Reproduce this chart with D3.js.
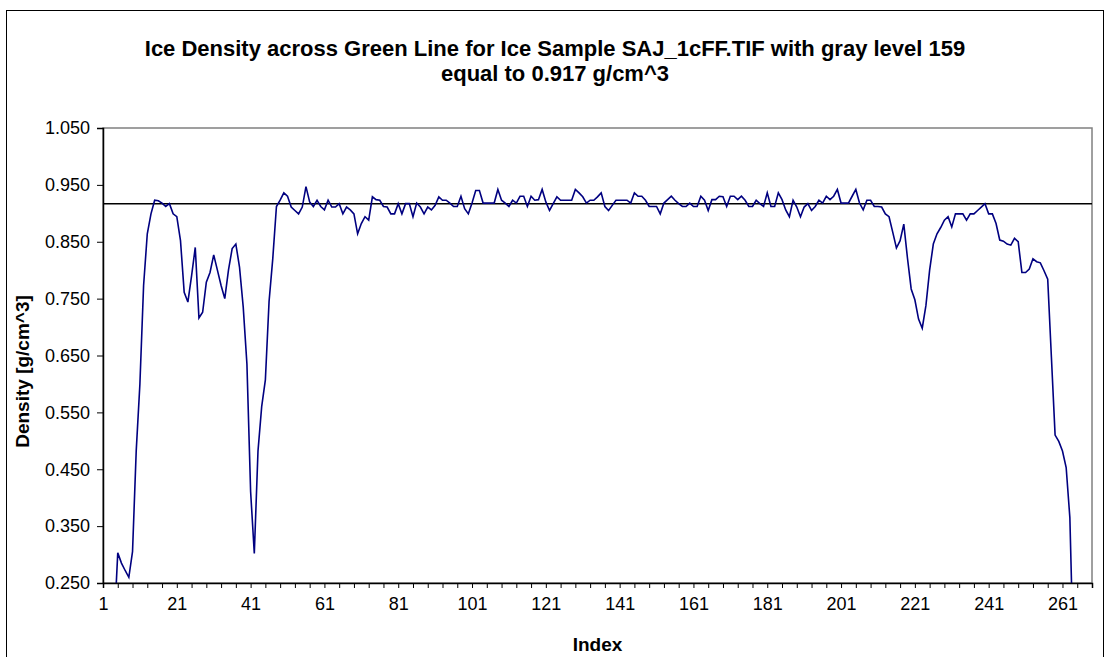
<!DOCTYPE html>
<html>
<head>
<meta charset="utf-8">
<script src="https://cdn.jsdelivr.net/npm/d3@7"></script>
<style>
  body { margin: 0; background: #fff; }
  svg text { font-family: "Liberation Sans", Arial, sans-serif; }
</style>
</head>
<body>
<div id="chart"></div>
<script>
// density, one value per index (1..269)
var density = [
  0, 0, 0, 0.17, 0.303, 0.285, 0.272, 0.26, 0.305, 0.482,
  0.6, 0.773, 0.864, 0.899, 0.923, 0.922, 0.918, 0.912, 0.917, 0.899,
  0.894, 0.852, 0.761, 0.744, 0.79, 0.84, 0.716, 0.726, 0.779, 0.796,
  0.827, 0.80, 0.773, 0.75, 0.80, 0.838, 0.846, 0.805, 0.735, 0.635,
  0.411, 0.302, 0.482, 0.56, 0.607, 0.745, 0.82, 0.912, 0.923, 0.936,
  0.930, 0.911, 0.905, 0.899, 0.911, 0.947, 0.920, 0.912, 0.923, 0.912,
  0.906, 0.923, 0.911, 0.911, 0.917, 0.899, 0.911, 0.906, 0.899, 0.864,
  0.882, 0.894, 0.888, 0.929, 0.924, 0.923, 0.912, 0.911, 0.899, 0.899,
  0.917, 0.899, 0.917, 0.917, 0.894, 0.918, 0.911, 0.899, 0.911, 0.906,
  0.914, 0.929, 0.923, 0.923, 0.918, 0.912, 0.912, 0.930, 0.908, 0.899,
  0.918, 0.940, 0.940, 0.918, 0.918, 0.918, 0.918, 0.942, 0.923, 0.918,
  0.912, 0.923, 0.918, 0.930, 0.930, 0.912, 0.930, 0.923, 0.924, 0.942,
  0.920, 0.905, 0.917, 0.929, 0.923, 0.923, 0.923, 0.923, 0.942, 0.936,
  0.929, 0.918, 0.923, 0.923, 0.929, 0.936, 0.912, 0.905, 0.914, 0.923,
  0.923, 0.923, 0.923, 0.918, 0.936, 0.930, 0.930, 0.923, 0.912, 0.912,
  0.912, 0.899, 0.918, 0.924, 0.930, 0.923, 0.917, 0.912, 0.912, 0.918,
  0.912, 0.912, 0.930, 0.923, 0.905, 0.924, 0.924, 0.930, 0.929, 0.912,
  0.930, 0.930, 0.924, 0.930, 0.923, 0.912, 0.912, 0.923, 0.917, 0.912,
  0.936, 0.912, 0.912, 0.936, 0.924, 0.906, 0.894, 0.923, 0.911, 0.894,
  0.911, 0.917, 0.905, 0.912, 0.923, 0.918, 0.930, 0.924, 0.930, 0.942,
  0.918, 0.918, 0.918, 0.930, 0.942, 0.918, 0.906, 0.923, 0.923, 0.912,
  0.912, 0.911, 0.899, 0.894, 0.867, 0.839, 0.852, 0.881, 0.821, 0.767,
  0.748, 0.714, 0.698, 0.738, 0.80, 0.846, 0.864, 0.875, 0.888, 0.894,
  0.876, 0.899, 0.899, 0.899, 0.888, 0.899, 0.899, 0.905, 0.911, 0.917,
  0.899, 0.899, 0.882, 0.853, 0.851, 0.846, 0.844, 0.856, 0.850, 0.796,
  0.796, 0.802, 0.820, 0.815, 0.813, 0.799, 0.784, 0.647, 0.510, 0.499,
  0.482, 0.453, 0.365, 0.11, 0, 0, 0, 0, 0
];
var iceDensity = 0.917; // gray level 159
var yTicks = [0.25, 0.35, 0.45, 0.55, 0.65, 0.75, 0.85, 0.95, 1.05];
var xLabels = [1, 21, 41, 61, 81, 101, 121, 141, 161, 181, 201, 221, 241, 261];
var titleLines = ["Ice Density across Green Line for Ice Sample SAJ_1cFF.TIF with gray level 159",
                  "equal to 0.917 g/cm^3"];

var width = 1108, height = 657;
var plot = {left: 103, right: 1092, top: 128, bottom: 583};

var svg = d3.select("#chart").append("svg")
            .attr("width", width)
            .attr("height", height);

// chart border
svg.append("rect")
   .attr("x", 6.5).attr("y", 10.5)
   .attr("width", 1097).attr("height", 660)
   .attr("fill", "none").attr("stroke", "#000").attr("stroke-width", 1);

var x = d3.scaleLinear().domain([1, density.length]).range([plot.left, plot.right]);
var y = d3.scaleLinear().domain([0.25, 1.05]).range([plot.bottom, plot.top]);

// plot area border (grey)
svg.append("rect")
   .attr("x", plot.left).attr("y", plot.top)
   .attr("width", plot.right - plot.left).attr("height", plot.bottom - plot.top)
   .attr("fill", "none").attr("stroke", "#808080").attr("stroke-width", 1.5);

svg.append("clipPath").attr("id", "clip")
   .append("rect")
   .attr("x", plot.left).attr("y", plot.top)
   .attr("width", plot.right - plot.left).attr("height", plot.bottom - plot.top);

// reference line at ice density
svg.append("line")
   .attr("x1", plot.left).attr("x2", plot.right)
   .attr("y1", y(iceDensity)).attr("y2", y(iceDensity))
   .attr("stroke", "#000").attr("stroke-width", 1.5);

var line = d3.line()
             .x(function(d, i) { return x(i + 1); })
             .y(function(d) { return y(d); });

svg.append("path")
   .datum(density)
   .attr("clip-path", "url(#clip)")
   .attr("d", line)
   .attr("fill", "none")
   .attr("stroke", "#000080")
   .attr("stroke-width", 1.6);

// axes
var yAxis = d3.axisLeft(y).tickValues(yTicks).tickSize(6).tickPadding(7)
              .tickFormat(d3.format(".3f"));
var gy = svg.append("g").attr("transform", "translate(" + plot.left + ",0)").call(yAxis);

var xTickMarks = [];
for (var t = 1; t <= density.length; t += 4) xTickMarks.push(t);
var xAxis = d3.axisBottom(x).tickValues(xTickMarks).tickSize(5).tickPadding(9)
              .tickFormat(function(d) { return xLabels.indexOf(d) >= 0 ? d : ""; });
var gx = svg.append("g").attr("transform", "translate(0," + plot.bottom + ")").call(xAxis);

[gx, gy].forEach(function(g) {
  g.select(".domain").attr("stroke", "#000").attr("stroke-width", 1.5);
  g.selectAll(".tick line").attr("stroke", "#000").attr("stroke-width", 1);
  g.selectAll(".tick text").attr("fill", "#000").style("font-size", "18px");
});

// titles
svg.selectAll(".title")
   .data(titleLines)
   .enter()
   .append("text")
   .attr("class", "title")
   .attr("x", 555)
   .attr("y", function(d, i) { return 56 + i * 25; })
   .attr("text-anchor", "middle")
   .style("font-size", "22px")
   .style("font-weight", "bold")
   .text(function(d) { return d; });

svg.append("text")
   .attr("x", (plot.left + plot.right) / 2)
   .attr("y", 651)
   .attr("text-anchor", "middle")
   .style("font-size", "19px")
   .style("font-weight", "bold")
   .text("Index");

svg.append("text")
   .attr("transform", "translate(29," + ((plot.top + plot.bottom) / 2 + 16) + ") rotate(-90)")
   .attr("text-anchor", "middle")
   .style("font-size", "19px")
   .style("font-weight", "bold")
   .text("Density [g/cm^3]");
</script>
</body>
</html>
